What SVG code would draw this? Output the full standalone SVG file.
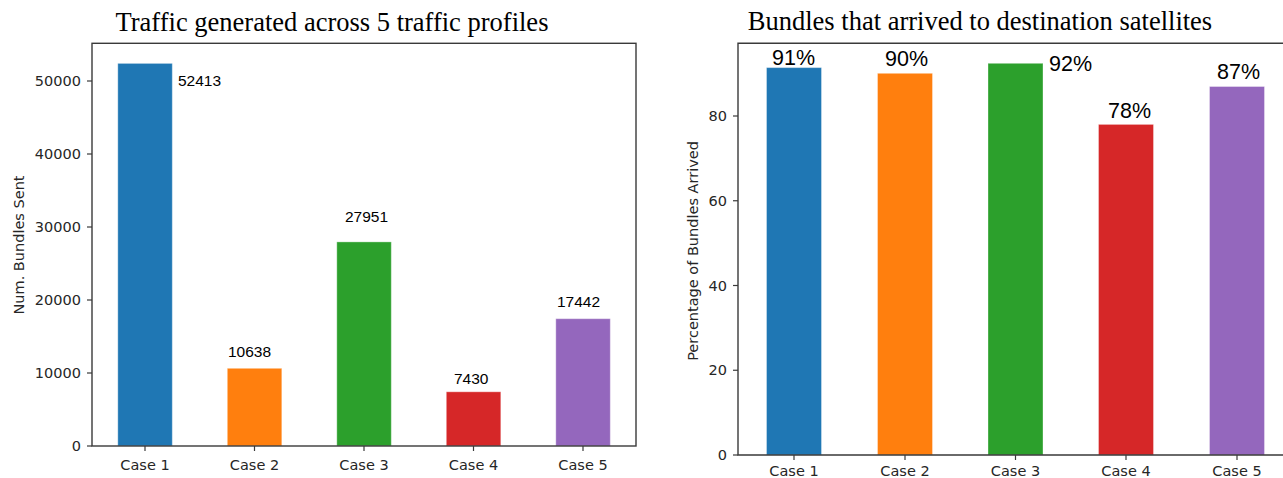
<svg xmlns="http://www.w3.org/2000/svg" width="1283" height="478" viewBox="0 0 1283 478">
<style>
  .title { font-family: "Liberation Serif", "Times New Roman", serif; font-size: 26.5px; fill: #000; text-anchor: middle; }
  .tick { font-family: "DejaVu Sans", sans-serif; font-size: 14.5px; fill: #262626; }
  .ytick { text-anchor: end; }
  .xtick { text-anchor: middle; }
  .axlabel { font-family: "DejaVu Sans", sans-serif; font-size: 14.5px; fill: #262626; text-anchor: middle; }
  .val { font-family: "Liberation Sans", Arial, sans-serif; font-size: 15.5px; fill: #000; }
  .pct { font-family: "Liberation Sans", Arial, sans-serif; font-size: 21.5px; fill: #000; }
  .spine { fill: none; stroke: #3a3a3a; stroke-width: 1.4; }
  .tk { stroke: #3a3a3a; stroke-width: 1.2; }
  .bar { stroke: #ffffff; stroke-opacity: 0.35; stroke-width: 1; }
  .c1 { fill: #1f77b4; } .c2 { fill: #ff7f0e; } .c3 { fill: #2ca02c; } .c4 { fill: #d62728; } .c5 { fill: #9467bd; }
</style>
<rect x="0" y="0" width="1283" height="478" fill="#ffffff"/>

<g id="chart-left">
  <text class="title" x="332" y="31">Traffic generated across 5 traffic profiles</text>
  <g id="left-bars">
    <rect class="bar c1" x="117.8" y="63.4" width="54.5" height="382.6"/>
    <rect class="bar c2" x="227.3" y="368.3" width="54.5" height="77.7"/>
    <rect class="bar c3" x="336.8" y="241.9" width="54.5" height="204.1"/>
    <rect class="bar c4" x="446.3" y="391.8" width="54.5" height="54.2"/>
    <rect class="bar c5" x="555.8" y="318.7" width="54.5" height="127.3"/>
  </g>
  <rect class="spine" x="92" y="43.3" width="544" height="402.7"/>
  <g id="left-yticks">
    <line class="tk" x1="87" y1="446" x2="92" y2="446"/>
    <line class="tk" x1="87" y1="373" x2="92" y2="373"/>
    <line class="tk" x1="87" y1="300" x2="92" y2="300"/>
    <line class="tk" x1="87" y1="227" x2="92" y2="227"/>
    <line class="tk" x1="87" y1="154" x2="92" y2="154"/>
    <line class="tk" x1="87" y1="81" x2="92" y2="81"/>
    <text class="tick ytick" x="81" y="451">0</text>
    <text class="tick ytick" x="81" y="378">10000</text>
    <text class="tick ytick" x="81" y="305">20000</text>
    <text class="tick ytick" x="81" y="232">30000</text>
    <text class="tick ytick" x="81" y="159">40000</text>
    <text class="tick ytick" x="81" y="86">50000</text>
  </g>
  <g id="left-xticks">
    <line class="tk" x1="145" y1="446" x2="145" y2="451"/>
    <line class="tk" x1="254.5" y1="446" x2="254.5" y2="451"/>
    <line class="tk" x1="364" y1="446" x2="364" y2="451"/>
    <line class="tk" x1="473.5" y1="446" x2="473.5" y2="451"/>
    <line class="tk" x1="583" y1="446" x2="583" y2="451"/>
    <text class="tick xtick" x="145" y="470">Case 1</text>
    <text class="tick xtick" x="254.5" y="470">Case 2</text>
    <text class="tick xtick" x="364" y="470">Case 3</text>
    <text class="tick xtick" x="473.5" y="470">Case 4</text>
    <text class="tick xtick" x="583" y="470">Case 5</text>
  </g>
  <text class="axlabel" transform="translate(23.5,245) rotate(-90)">Num. Bundles Sent</text>
  <g id="left-values">
    <text class="val" x="178" y="86">52413</text>
    <text class="val" x="228" y="357">10638</text>
    <text class="val" x="345" y="222">27951</text>
    <text class="val" x="454" y="383.5">7430</text>
    <text class="val" x="557" y="307">17442</text>
  </g>
</g>

<g id="chart-right">
  <text class="title" x="980" y="30">Bundles that arrived to destination satellites</text>
  <g id="right-bars">
    <rect class="bar c1" x="766.5" y="67.6" width="55" height="387.4"/>
    <rect class="bar c2" x="877.5" y="73.3" width="55" height="381.7"/>
    <rect class="bar c3" x="988" y="63.3" width="55" height="391.7"/>
    <rect class="bar c4" x="1098.5" y="124.4" width="55" height="330.6"/>
    <rect class="bar c5" x="1209.5" y="86.5" width="55" height="368.5"/>
  </g>
  <path class="spine" d="M1284,43.3 H738 V455 H1284"/>
  <g id="right-yticks">
    <line class="tk" x1="733" y1="455" x2="738" y2="455"/>
    <line class="tk" x1="733" y1="370.25" x2="738" y2="370.25"/>
    <line class="tk" x1="733" y1="285.5" x2="738" y2="285.5"/>
    <line class="tk" x1="733" y1="200.75" x2="738" y2="200.75"/>
    <line class="tk" x1="733" y1="116" x2="738" y2="116"/>
    <text class="tick ytick" x="727" y="460">0</text>
    <text class="tick ytick" x="727" y="375.25">20</text>
    <text class="tick ytick" x="727" y="290.5">40</text>
    <text class="tick ytick" x="727" y="205.75">60</text>
    <text class="tick ytick" x="727" y="121">80</text>
  </g>
  <g id="right-xticks">
    <line class="tk" x1="794" y1="455" x2="794" y2="460"/>
    <line class="tk" x1="905" y1="455" x2="905" y2="460"/>
    <line class="tk" x1="1015.5" y1="455" x2="1015.5" y2="460"/>
    <line class="tk" x1="1126" y1="455" x2="1126" y2="460"/>
    <line class="tk" x1="1237" y1="455" x2="1237" y2="460"/>
    <text class="tick xtick" x="794" y="475.5">Case 1</text>
    <text class="tick xtick" x="905" y="475.5">Case 2</text>
    <text class="tick xtick" x="1015.5" y="475.5">Case 3</text>
    <text class="tick xtick" x="1126" y="475.5">Case 4</text>
    <text class="tick xtick" x="1237" y="475.5">Case 5</text>
  </g>
  <text class="axlabel" transform="translate(697.5,251) rotate(-90)">Percentage of Bundles Arrived</text>
  <g id="right-values">
    <text class="pct" x="772" y="64.5">91%</text>
    <text class="pct" x="885" y="65.7">90%</text>
    <text class="pct" x="1049" y="71">92%</text>
    <text class="pct" x="1108" y="118.3">78%</text>
    <text class="pct" x="1217" y="79">87%</text>
  </g>
</g>
</svg>
